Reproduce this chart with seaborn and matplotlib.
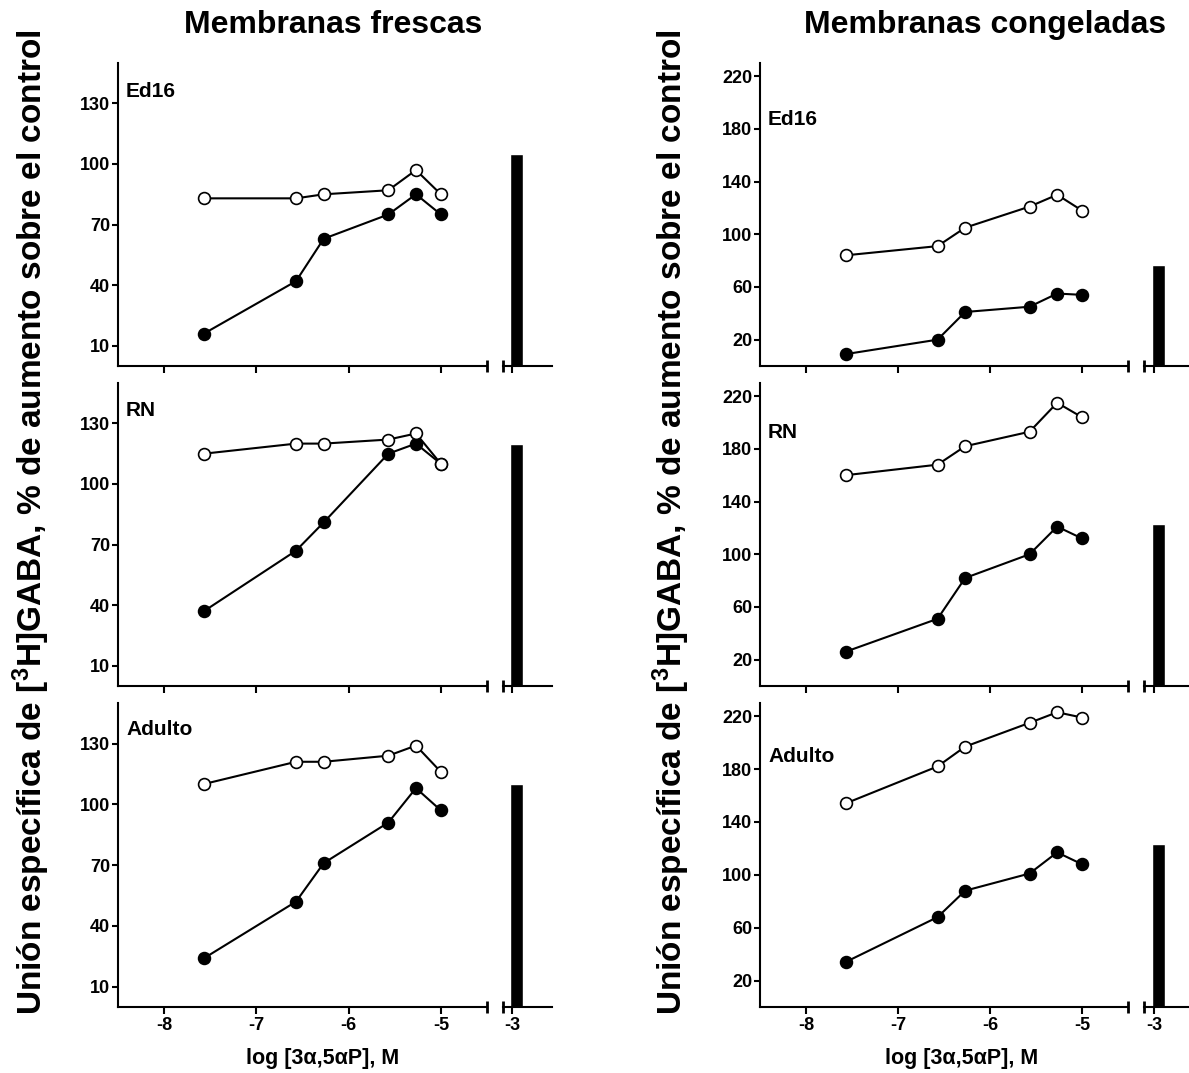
import matplotlib
matplotlib.use("Agg")
import matplotlib.pyplot as plt
import seaborn as sns

sns.set_theme(style="ticks", rc={
    "axes.edgecolor": "black", "xtick.color": "black", "ytick.color": "black",
    "text.color": "black", "axes.labelcolor": "black",
})
plt.rcParams['font.family'] = ['Liberation Sans', 'DejaVu Sans']
plt.rcParams['font.weight'] = 'bold'
plt.rcParams['mathtext.fontset'] = 'custom'
plt.rcParams['mathtext.rm'] = 'Liberation Sans:bold'
plt.rcParams['mathtext.it'] = 'Liberation Sans:bold'
plt.rcParams['mathtext.bf'] = 'Liberation Sans:bold'

# log [3a,5aP] (M) for the concentration-response curves, and the single high dose
log_conc = [-7.57, -6.57, -6.27, -5.57, -5.27, -5.0]
bar_conc = -3.0

row_labels = ["Ed16", "RN", "Adulto"]
column_titles = ["Membranas frescas", "Membranas congeladas"]

# Fresh membranes: open / filled circles, bar at 1 mM
fresh_ed16_open = [83, 83, 85, 87, 97, 85]
fresh_ed16_filled = [16, 42, 63, 75, 85, 75]
fresh_ed16_bar = 105
fresh_rn_open = [115, 120, 120, 122, 125, 110]
fresh_rn_filled = [37, 67, 81, 115, 120, 110]
fresh_rn_bar = 120
fresh_adult_open = [110, 121, 121, 124, 129, 116]
fresh_adult_filled = [24, 52, 71, 91, 108, 97]
fresh_adult_bar = 110

# Frozen membranes
frozen_ed16_open = [84, 91, 105, 121, 130, 118]
frozen_ed16_filled = [9, 20, 41, 45, 55, 54]
frozen_ed16_bar = 77
frozen_rn_open = [160, 168, 182, 193, 215, 204]
frozen_rn_filled = [26, 51, 82, 100, 121, 112]
frozen_rn_bar = 123
frozen_adult_open = [154, 182, 197, 215, 223, 219]
frozen_adult_filled = [34, 68, 88, 101, 117, 108]
frozen_adult_bar = 123

fresh_ylim = (0, 150)
fresh_yticks = [10, 40, 70, 100, 130]
frozen_ylim = (0, 230)
frozen_yticks = [20, 60, 100, 140, 180, 220]
xticks = [-8, -7, -6, -5]

columns = [
    dict(title=column_titles[0], ylim=fresh_ylim, yticks=fresh_yticks,
         rows=[(fresh_ed16_open, fresh_ed16_filled, fresh_ed16_bar),
               (fresh_rn_open, fresh_rn_filled, fresh_rn_bar),
               (fresh_adult_open, fresh_adult_filled, fresh_adult_bar)],
         main_x=(118, 487), brk_x=(503, 552), title_x=333, xlabel_x=323, ylabel_x=31,
         label_y=[0.888, 0.892, 0.895]),
    dict(title=column_titles[1], ylim=frozen_ylim, yticks=frozen_yticks,
         rows=[(frozen_ed16_open, frozen_ed16_filled, frozen_ed16_bar),
               (frozen_rn_open, frozen_rn_filled, frozen_rn_bar),
               (frozen_adult_open, frozen_adult_filled, frozen_adult_bar)],
         main_x=(760, 1128), brk_x=(1144, 1193), title_x=985, xlabel_x=962, ylabel_x=671,
         label_y=[0.796, 0.817, 0.807]),
]
row_y = [(63, 366), (383, 686), (703, 1007)]

W, H = 1189, 1073
fig = plt.figure(figsize=(W / 100, H / 100), dpi=100)
fig.patch.set_facecolor("white")


def box(x0, x1, y0, y1):
    return [x0 / W, 1 - y1 / H, (x1 - x0) / W, (y1 - y0) / H]


LW = 1.5
TICK_FS = 13

for col in columns:
    for r, (open_vals, filled_vals, bar_val) in enumerate(col["rows"]):
        y0, y1 = row_y[r]
        ax = fig.add_axes(box(*col["main_x"], y0, y1))
        axb = fig.add_axes(box(*col["brk_x"], y0, y1))

        sns.lineplot(x=log_conc, y=filled_vals, ax=ax, color="black", linewidth=LW,
                     marker="o", markersize=8.5, markerfacecolor="black",
                     markeredgecolor="black", markeredgewidth=1.2, zorder=3)
        sns.lineplot(x=log_conc, y=open_vals, ax=ax, color="black", linewidth=LW,
                     marker="o", markersize=8.5, markerfacecolor="white",
                     markeredgecolor="black", markeredgewidth=1.2, zorder=4)

        sns.barplot(x=[bar_conc + 0.05], y=[bar_val], native_scale=True, width=0.14,
                    color="black", saturation=1, errorbar=None, ax=axb)

        ax.set_xlim(-8.5, -4.5)
        ax.set_ylim(*col["ylim"])
        ax.set_yticks(col["yticks"])
        ax.set_xticks(xticks)
        px_per_unit = (col["main_x"][1] - col["main_x"][0]) / 4.0
        b0, b1 = col["brk_x"]
        tick_px = 9 if b0 < 600 else 10
        axb.set_xlim(bar_conc - tick_px / px_per_unit,
                     bar_conc + (b1 - b0 - tick_px) / px_per_unit)
        axb.set_ylim(*col["ylim"])
        axb.set_xticks([bar_conc])
        axb.set_yticks([])

        for a in (ax, axb):
            a.set_xlabel("")
            a.set_ylabel("")
            a.set_facecolor("white")
            a.spines["top"].set_visible(False)
            a.spines["right"].set_visible(False)
            for s in a.spines.values():
                s.set_linewidth(LW)
            a.tick_params(axis="x", direction="out", length=5, width=LW,
                          labelsize=TICK_FS, pad=2)
            a.tick_params(axis="y", direction="out", length=4.5, width=LW,
                          labelsize=TICK_FS, pad=1)
        axb.spines["left"].set_visible(False)

        if r < 2:
            ax.set_xticklabels([])
            axb.set_xticklabels([])
        else:
            ax.set_xticklabels([str(t) for t in xticks])
            axb.set_xticklabels([str(int(bar_conc))])
        for lab in ax.get_xticklabels() + ax.get_yticklabels() + axb.get_xticklabels():
            lab.set_fontweight("bold")

        # break marks at the ends of the split x axis
        ax.plot([1], [0], transform=ax.transAxes, marker="|", markersize=9,
                markeredgewidth=2, color="black", clip_on=False)
        axb.plot([0], [0], transform=axb.transAxes, marker="|", markersize=9,
                 markeredgewidth=2, color="black", clip_on=False)

        ax.text(0.022, col["label_y"][r], row_labels[r], transform=ax.transAxes,
                fontsize=15, fontweight="bold", ha="left", va="baseline")

    fig.text(col["title_x"] / W, 1 - 25 / H, col["title"], fontsize=23,
             fontweight="bold", ha="center", va="center")
    fig.text(col["xlabel_x"] / W, 1 - 1064 / H, "log [3α,5αP], M", fontsize=15.5,
             fontweight="bold", ha="center", va="baseline")
    fig.text(col["ylabel_x"] / W, 1 - 522 / H,
             "Unión específica de [$^{3}$H]GABA, % de aumento sobre el control",
             fontsize=24, fontweight="bold", rotation=90, ha="center", va="center")

fig.savefig("out.png", dpi=100, facecolor="white")
